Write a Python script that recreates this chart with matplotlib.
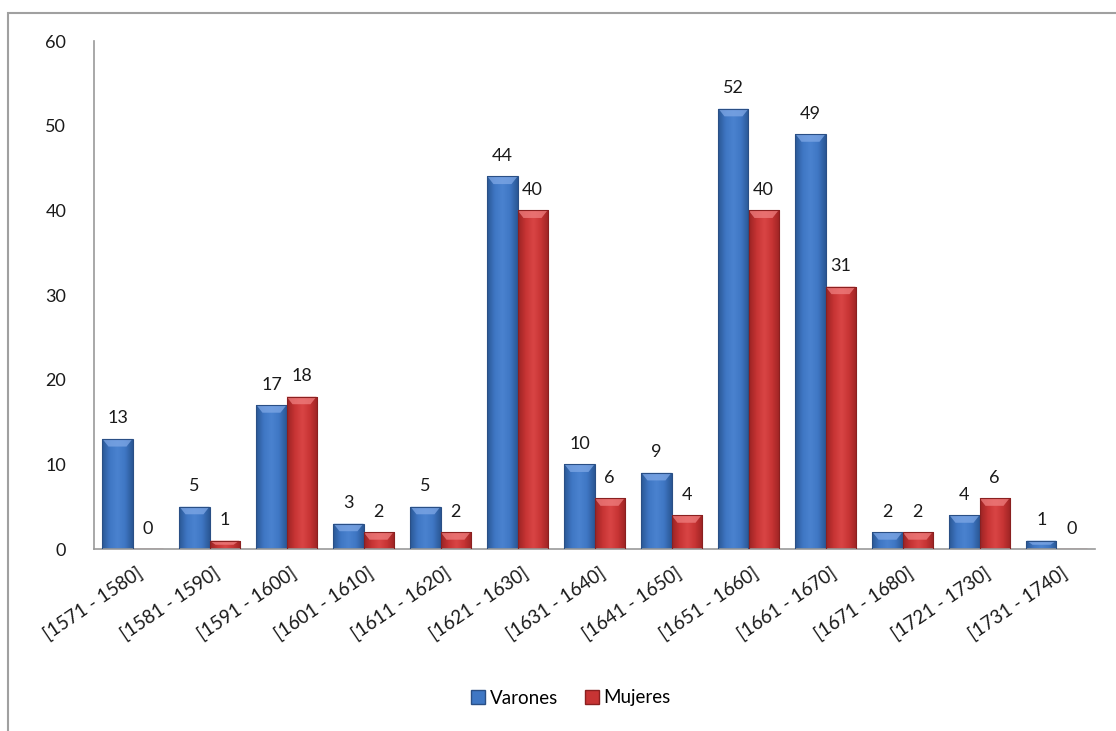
import numpy as np
import matplotlib
matplotlib.use("Agg")
import matplotlib.pyplot as plt
from matplotlib.patches import Rectangle
from matplotlib.colors import LinearSegmentedColormap

plt.rcParams['font.family'] = ['Lato', 'DejaVu Sans']

categories = ["[1571 - 1580]", "[1581 - 1590]", "[1591 - 1600]", "[1601 - 1610]",
              "[1611 - 1620]", "[1621 - 1630]", "[1631 - 1640]", "[1641 - 1650]",
              "[1651 - 1660]", "[1661 - 1670]", "[1671 - 1680]", "[1721 - 1730]",
              "[1731 - 1740]"]
varones = [13, 5, 17, 3, 5, 44, 10, 9, 52, 49, 2, 4, 1]
mujeres = [0, 1, 18, 2, 2, 40, 6, 4, 40, 31, 2, 6, 0]
y_ticks = [0, 10, 20, 30, 40, 50, 60]

W, H = 1116, 731
fig = plt.figure(figsize=(W / 100, H / 100), dpi=100)

# outer frame of the chart area
fig.patches.append(Rectangle((8 / W, -0.01), 1.2, 1 - 13 / H + 0.01,
                             transform=fig.transFigure, fill=False,
                             edgecolor='#a0a0a0', linewidth=1.5))

ax = fig.add_axes([94 / W, 1 - 549 / H, (1095 - 94) / W, (549 - 41) / H])
ax.set_xlim(-0.5, len(categories) - 0.5)
ax.set_ylim(0, 60)

blue_cmap = LinearSegmentedColormap.from_list(
    'b', ['#2a5795', '#3f77c4', '#4a82cf', '#3f77c4', '#2a5795'])
red_cmap = LinearSegmentedColormap.from_list(
    'r', ['#9c2424', '#c73434', '#d94545', '#c73434', '#9c2424'])

bw = 0.39
x = np.arange(len(categories))
grad = np.linspace(0, 1, 64).reshape(1, -1)


def draw_bars(xs, vals, cmap, edge, top_col):
    bars = ax.bar(xs, vals, width=bw, color='none', edgecolor=edge,
                  linewidth=0.8, zorder=3)
    for b, v in zip(bars, vals):
        if v <= 0:
            continue
        x0, w = b.get_x(), b.get_width()
        im = ax.imshow(grad, cmap=cmap, aspect='auto',
                       extent=(x0, x0 + w, 0, v), zorder=2,
                       interpolation='bicubic')
        im.set_clip_path(b)
        # bevelled top highlight
        bev = min(0.9, v * 0.5)
        ax.fill([x0, x0 + w, x0 + w * 0.8, x0 + w * 0.2],
                [v, v, v - bev, v - bev], color=top_col, alpha=0.75,
                zorder=2.5, linewidth=0)
    return bars


draw_bars(x - bw / 2, varones, blue_cmap, '#2a4f85', '#7fa8e6')
draw_bars(x + bw / 2, mujeres, red_cmap, '#8a2020', '#ef7f7f')

for xi, v in zip(x - bw / 2, varones):
    ax.annotate(str(v), (xi, v), xytext=(0, 9), textcoords='offset points',
                ha='center', va='bottom', fontsize=13, color='#1a1a1a')
for xi, v in zip(x + bw / 2, mujeres):
    ax.annotate(str(v), (xi, v), xytext=(0, 9), textcoords='offset points',
                ha='center', va='bottom', fontsize=13, color='#1a1a1a')

ax.set_xticks(x + 0.5)
ax.set_xticklabels([])
ax.tick_params(axis='x', length=0)
for xi, lab in zip(x, categories):
    ax.text(xi + 0.05, -1.8, lab, rotation=34, rotation_mode='anchor',
            ha='right', va='top', fontsize=13.5, color='#1a1a1a')

ax.set_yticks(y_ticks)
ax.set_yticklabels([str(t) for t in y_ticks], fontsize=13, color='#1a1a1a')
ax.tick_params(axis='y', length=0, pad=20)

for s in ['top', 'right']:
    ax.spines[s].set_visible(False)
for s in ['left', 'bottom']:
    ax.spines[s].set_color('#999999')
    ax.spines[s].set_linewidth(1.2)

# legend
handles = [Rectangle((0, 0), 1, 1, facecolor='#3f77c4', edgecolor='#2a4f85'),
           Rectangle((0, 0), 1, 1, facecolor='#c73434', edgecolor='#8a2020')]
fig.legend(handles, ['Varones', 'Mujeres'], loc='center',
           bbox_to_anchor=(571 / W, 1 - 698 / H), ncol=2, frameon=False,
           fontsize=13.5, handlelength=0.75, handleheight=0.75,
           handletextpad=0.25, columnspacing=1.4)

fig.savefig('out.png', dpi=100)
